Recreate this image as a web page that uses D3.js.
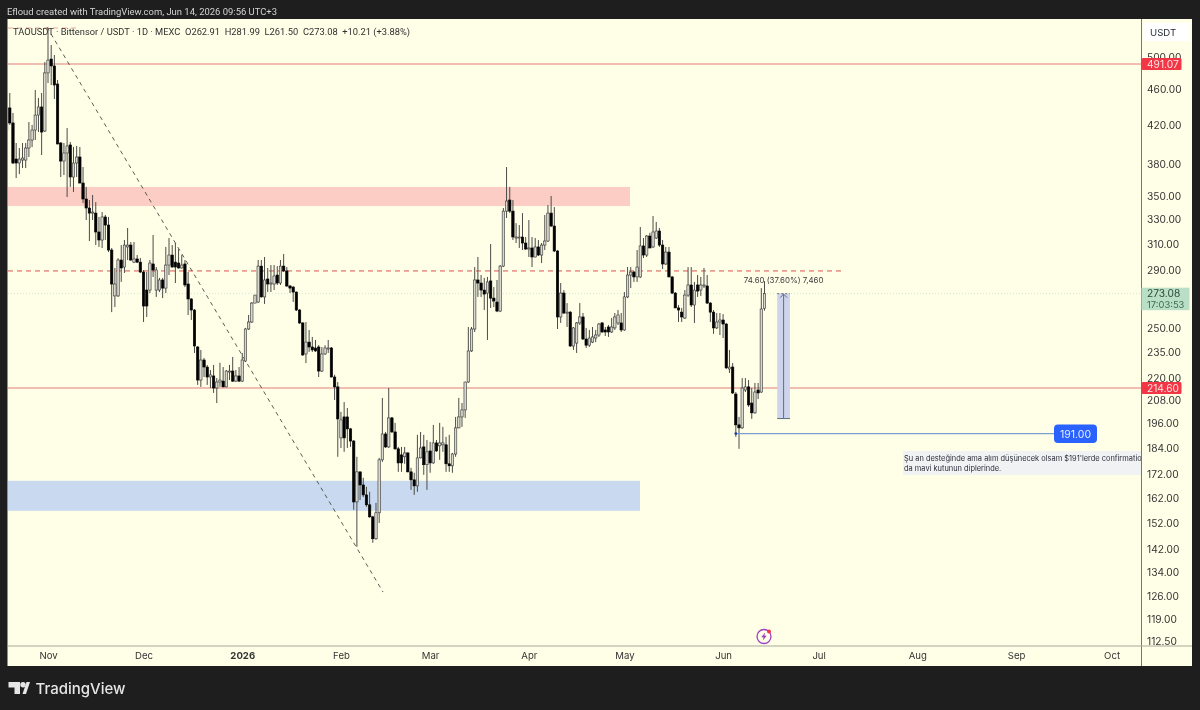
<!DOCTYPE html>
<html><head><meta charset="utf-8">
<script src="https://cdn.jsdelivr.net/npm/d3@7"></script>
<style>
html,body{margin:0;padding:0;background:#1e1e1e;overflow:hidden}
svg{display:block;filter:blur(0.35px)}
text{font-family:Inter,"Noto Sans",sans-serif}
</style></head><body>
<svg id="c" width="1200" height="710"></svg>
<script>
const startDay = "2025-10-19";
const opens = [414.8,438.9,422.4,385.2,381.3,384.2,384.2,396.2,404.4,414.8,
431,440,413.8,480,497.3,488.6,466.6,401.3,383.2,391.2,
399.3,367.9,381.3,387.2,362.3,347.8,339.9,335.5,335.5,319.7,
313.2,332.2,325.4,305.3,271.5,271.5,297.6,292.3,307.7,309.2,
296,298.4,296,288.6,275.6,275.6,294.6,275.6,275.6,282.8,
277,293.8,301.4,296,295.3,291.6,294.6,279.9,269.4,261.9,
238.3,219,230.5,226.4,220.7,221.3,214.6,217.9,218.4,215.2,
223.5,224.1,218.4,221.3,218.4,229.9,249.5,254,266.6,267.3,
293,270.8,283.5,279.9,279.9,286.4,280.6,293,289.4,278.5,
277.7,274.2,261.9,253.4,234.1,241.3,238.3,237.7,238.3,224.1,
234.1,237.1,237.7,220.7,215.2,188.9,199.3,199.3,193.3,187.4,
160.4,173.2,167.5,163.3,159.2,154.4,146,156,178.6,190.8,
184.6,198.8,191.8,183.7,180.9,180,181.8,173.2,169.7,167.1,
179.5,184.6,176.4,182.7,177.2,186.5,185.1,185.6,185.6,176.8,
175.9,181.3,193.8,199.3,202.9,217.9,235.9,249.5,282.8,280.6,
275.6,273.5,282.1,270,267.3,261.2,293,337.2,346.9,337.2,
314.8,314.8,315.6,310.8,306.1,306.9,299.9,307.7,301.4,309.2,
312.4,335.5,324.6,304.5,257.3,273.5,259.9,260.5,238.9,240.7,
253.4,257.3,243.2,239.4,241.3,243.8,245.7,253.4,248.9,250.8,
247.6,250.2,253.4,253.4,248.9,270.8,286.4,288.6,285,285,
308.5,301.4,316.4,307.7,314.8,320.5,309.2,294.6,303.7,285,
273.5,263.3,260.5,256.6,272.1,279.2,265.3,279.2,275.6,278.5,
278.5,266.6,260.5,250.2,254,255.3,252.7,225.3,226.4,211.3,
195.3,193.8,213.5,215.2,206.5,201.4,213.5,212.4,262.91];
const closes = [438.9,422.4,381.3,381.3,385.2,386.2,396.2,404.4,414.8,431,
440,412.7,480,496,488.6,465.4,400.3,383.2,391.2,398.3,
367.9,381.3,387.2,362.3,347.8,339.9,335.5,336.4,319.7,313.2,
332.2,325.4,305.3,279.9,279.9,297.6,291.6,309.2,309.2,297.6,
298.4,296,288.6,264.6,264.6,295.3,290.1,290.1,282.8,277,
293.8,301.4,292.3,292.3,291.6,293.8,279.2,269.4,261.9,238.9,
219,230.5,226.4,220.7,221.9,214.6,217.9,219,215.2,224.1,
224.1,218.4,221.3,218.4,230.5,249.5,254,266.6,272.1,293,
270.8,282.8,279.9,280.6,285.7,280.6,293,289.4,278.5,277,
274.2,261.9,253.4,233.5,241.3,238.3,236.5,235.9,224.1,234.1,
237.7,237.7,220.7,215.2,198.3,197.8,188.9,193.3,187.4,160.4,
173.2,167.5,163.3,159.2,154.4,146,156,178.6,190.8,184.6,
198.8,191.8,183.7,177.2,177.2,181.8,173.2,169.7,167.1,179.5,
184.1,176.4,182.3,177.2,186.5,182.7,186.5,186.5,176.8,175.9,
181.3,193.8,199.3,202.9,217.9,235.9,249.5,282.8,280.6,275.6,
272.8,281.4,270,268,261.2,293,337.2,346,337.2,315.6,
315.6,315.6,310.8,306.1,306.9,299.9,307.7,301.4,309.2,312.4,
335.5,324.6,304.5,257.3,273.5,259.9,260.5,238.9,250.2,253.4,
257.3,243.2,239.4,243.8,244.5,245.7,252.7,247.6,247.6,247.6,
250.8,257.3,258.6,248.9,270.8,286.4,288.6,285,292.3,308.5,
301.4,316.4,306.9,319.7,320.5,309.2,294.6,303.7,285,273.5,
263.3,261.9,257.3,272.1,279.2,265.3,275.6,274.9,279.2,279.2,
266.6,260.5,250.2,254,255.3,252.7,225.9,226.4,211.9,195.3,
193.8,214.6,215.2,205.5,201.4,212.4,211.9,262.6,273.08];
const highs = [447.9,456,433.3,401.3,396.2,401.3,401.3,423.4,420.2,459.5,
450.2,456,493.5,538,515.5,502.5,471.4,402.3,401.3,417,
402.3,397.3,398.3,397.3,377.4,358.7,346.9,351.4,345.1,332.2,
336.4,333.9,332.2,306.9,291.6,299,309.2,313.2,323,311.6,
311.6,301.4,299.1,290.1,288.6,297.6,317.2,292.3,284.3,284.3,
307.7,314.8,309.2,310.8,306.1,301.4,297.6,288.6,270,262.6,
238.9,236.5,231.7,227.6,224.7,227.6,220.1,228.9,226.4,224.7,
227.6,232.3,224.7,226.4,234.7,250.2,258.6,267.3,272.1,297.6,
297.6,299.9,291.6,293.8,293.8,293,297.6,302.2,292.3,279.2,
278.5,274.6,262.6,253.8,254,248.9,244.5,242.6,239.4,238.3,
239.4,242.6,238.3,222,217.9,201.9,207,203.9,193.8,187.9,
180,173.3,170.6,166.7,164.6,154.8,160,179.5,209.2,191.8,
214.6,199.3,196.3,184.6,184.6,184.6,182,175,172.8,190.4,
191.8,190.4,187.9,187,195.3,187.9,196.3,194.3,189.4,190.4,
181.8,199.3,209.2,206.5,218,250.8,250.8,292.3,299.9,286.4,
284.3,285,310,277.7,282.8,293.8,339.9,377.4,358.7,346.9,
327,325.4,335.5,315.6,329.6,315.6,314.8,313.2,310.8,333.9,
342.5,350.5,340.7,305.3,280.6,275.6,266.6,261.2,250.8,254,
266.6,259.9,250.2,248.9,250.8,248.9,253.4,254,250.8,252.1,
256.6,259.9,261.9,259.9,274.2,292.3,292.3,289.4,305.3,323.8,
314.8,317.2,319,333,328,323,313.2,307.7,307.7,285.7,
274.2,265.3,263.3,275.6,292.3,292.3,281.4,286.4,285,291.6,
286.4,267.3,261.9,259.9,259.9,259.2,253.4,236.5,228.7,212.4,
199.3,220.1,220.1,219,214.6,217.4,217.4,277,281.99];
const lows = [399.3,420.2,380.3,367,370.7,376.4,376.4,387.2,397.2,404.4,
412.7,389.2,412.7,467.8,465.4,449,400,367.9,369.8,349.6,
358.7,354.1,367.9,362,344.3,329.6,312.4,329.6,309.2,307.7,
306.9,313.2,303.7,260.5,263.9,270.8,281.4,287.9,297.6,297,
295.3,295.3,287.9,254,257.3,273.5,285,270.8,274.2,270,
273.5,286.4,292,280.6,291.2,291.2,277.7,258.6,255.3,234.7,
216.3,215.2,220.7,216.3,214.6,211.9,206.5,215.2,215,215,
219,217.9,217.9,217.9,217.9,229.3,248.9,253.4,266.5,266.6,
270.5,266,274.2,274.2,275.6,279.2,279.2,288.6,277.7,273.5,
267.3,261.2,252.7,232.9,228.7,235.3,235.3,235.3,220.7,223.5,
233.5,234.7,220.5,208.1,180,184.1,182.3,184.1,184.6,157.2,
143,161.2,162.4,158.4,154,144.5,145.6,152,177.7,184.1,
184.1,191.3,183.2,173.2,173.2,176.8,173,165.4,163.3,164.6,
179.3,171.9,165.4,172.8,176.8,182.3,178.6,182.3,173.2,173.2,
172.8,180,193.6,194.3,198.8,217.4,235.3,247.6,270.8,270.8,
261.9,242.6,263.3,263.9,260.5,260.5,292.3,331.3,335.5,313.2,
310.8,306.9,305.3,305.3,299.9,292.3,299.6,300.7,295.3,305.3,
311.6,323.8,303.7,249.5,253.4,259.2,250.8,238.3,236.5,234.7,
252.1,242.6,237.7,238.3,240.7,241.3,244.5,247,245.1,244.5,
247,248.9,252.1,247.6,248.3,270,277,281.4,281.4,284.3,
299.1,299.9,306.7,306.9,314,307.7,290.8,293.8,284.8,272.8,
263.2,254,254,256,270.8,263.9,253.4,270.8,271.5,277,
266,254,246.4,249.5,245.7,243.8,225.3,223,211.3,189.4,
183.7,193.3,212.4,204.5,198.3,200.9,208.6,211.9,261.5];

const priceTicks = [500,460,420,380,350,330,310,290,250,235,220,208,196,184,172,162,152,142,134,126,119,112.5];
const monthTicks = [["2025-11-01","Nov"],["2025-12-01","Dec"],["2026-01-01","2026"],["2026-02-01","Feb"],["2026-03-01","Mar"],["2026-04-01","Apr"],["2026-05-01","May"],["2026-06-01","Jun"],["2026-07-01","Jul"],["2026-08-01","Aug"],["2026-09-01","Sep"],["2026-10-01","Oct"]];
const solidLevels = [491.07,214.60];
const dashedLevel = 289.4;
const lastPrice = 273.08;
const supportLevel = 191.00;
const supplyZone = [358.7,341.6];
const demandZone = [169.3,156.8];
const trendLine = [["2025-10-31T16:00Z",539.7],["2026-02-14T05:00Z",127.4]];
const measureBox = ["2026-06-18","2026-06-22",273.08,198.48];

const W=1200,H=710, L=8,R=1141,T=19,B=646, RE=1192, BE=666;
const x = d3.scaleUtc().domain([new Date("2025-10-19T10:30Z"),new Date("2026-10-10T05:40Z")]).range([L,R]);
const y = d3.scaleLog().domain([111.0,550.9]).range([B,T]);
const D = s => new Date(s.length===10 ? s+"T00:00Z" : s);
const svg = d3.select("#c");

svg.append("rect").attr("width",W).attr("height",H).attr("fill","#1e1e1e");
svg.append("rect").attr("x",7.5).attr("y",T).attr("width",RE-7.5).attr("height",BE-T).attr("fill","#ffffe8");
svg.append("defs").append("clipPath").attr("id","plot").append("rect").attr("x",L).attr("y",T).attr("width",R-L).attr("height",B-T);

const sans="Inter,'Noto Sans',sans-serif";
svg.append("text").attr("x",7).attr("y",15).attr("fill","#d4d4d4").attr("font-size",9.6).attr("font-family","Roboto").style("font-family","Roboto").attr("textLength",270).attr("lengthAdjust","spacingAndGlyphs").text("Efloud created with TradingView.com, Jun 14, 2026 09:56 UTC+3");

const plot = svg.append("g").attr("clip-path","url(#plot)");
plot.append("rect").attr("x",L).attr("width",630-L).attr("y",y(supplyZone[0])).attr("height",y(supplyZone[1])-y(supplyZone[0])).attr("fill","#fccdc4");
plot.append("rect").attr("x",L).attr("width",640-L).attr("y",y(demandZone[0])).attr("height",y(demandZone[1])-y(demandZone[0])).attr("fill","#c9d9ef");

plot.append("line").attr("x1",L).attr("x2",R).attr("y1",y(lastPrice)).attr("y2",y(lastPrice)).attr("stroke","#cfe8d2").attr("stroke-dasharray","1 2").attr("stroke-width",1);
plot.selectAll("line.lvl").data(solidLevels).join("line").attr("class","lvl").attr("x1",L).attr("x2",R).attr("y1",d=>y(d)).attr("y2",d=>y(d)).attr("stroke","#e17d7b").attr("stroke-width",1.2);
plot.append("line").attr("x1",L).attr("x2",844).attr("y1",y(dashedLevel)).attr("y2",y(dashedLevel)).attr("stroke","#d9534f").attr("stroke-width",1).attr("stroke-dasharray","5 4");
plot.append("line").attr("x1",L).attr("x2",76).attr("y1",28).attr("y2",28).attr("stroke","#eda5a0").attr("stroke-width",1).attr("stroke-dasharray","5 4");

plot.append("line").attr("x1",x(D(trendLine[0][0]))).attr("y1",y(trendLine[0][1])).attr("x2",x(D(trendLine[1][0]))).attr("y2",y(trendLine[1][1])).attr("stroke","#4a4a44").attr("stroke-width",0.9).attr("stroke-dasharray","4 4");

const candles = opens.map((o,i)=>({o,c:closes[i],h:highs[i],l:lows[i],d:d3.utcDay.offset(D(startDay),i)}));
const cg = plot.append("g");
cg.selectAll("line").data(candles).join("line").attr("x1",d=>x(d.d)).attr("x2",d=>x(d.d)).attr("y1",d=>y(d.h)).attr("y2",d=>y(d.l)).attr("stroke","#4b4b48").attr("stroke-width",1);
cg.selectAll("rect").data(candles).join("rect").attr("x",d=>x(d.d)-1.2).attr("width",2.4)
 .attr("y",d=>y(Math.max(d.o,d.c))).attr("height",d=>Math.max(1,Math.abs(y(d.o)-y(d.c))))
 .attr("fill",d=>d.c>=d.o?"#d8d8d0":"#000").attr("stroke",d=>d.c>=d.o?"#333":"#000").attr("stroke-width",0.6);

// measure tool
const mx1=x(D(measureBox[0])), mx2=x(D(measureBox[1])), my1=y(measureBox[2]), my2=y(measureBox[3]), mc=(mx1+mx2)/2;
plot.append("rect").attr("x",mx1).attr("width",mx2-mx1).attr("y",my1).attr("height",my2-my1).attr("fill","#cdd4ec");
plot.append("line").attr("x1",mc).attr("x2",mc).attr("y1",my1).attr("y2",my2).attr("stroke","#5f6f80").attr("stroke-width",1);
plot.append("line").attr("x1",mx1).attr("x2",mx2).attr("y1",my2).attr("y2",my2).attr("stroke","#5f6f80").attr("stroke-width",1);
plot.append("line").attr("x1",mx1).attr("x2",mx2).attr("y1",my1).attr("y2",my1).attr("stroke","#5f6f80").attr("stroke-width",1).attr("stroke-dasharray","2 2");
plot.append("path").attr("d",`M${mc-3.5} ${my1+4}L${mc} ${my1+.5}L${mc+3.5} ${my1+4}`).attr("fill","none").attr("stroke","#5f6f80");
plot.append("text").attr("x",mc).attr("y",my1-11).attr("text-anchor","middle").attr("font-size",7.9).attr("fill","#3c3c3c").text("74.60 (37.60%) 7,460");

// support line and label
const sy=y(supportLevel), sx=x(D("2026-06-05"));
plot.append("line").attr("x1",sx).attr("x2",1055).attr("y1",sy).attr("y2",sy).attr("stroke","#7c9fd0").attr("stroke-width",1.4);
plot.append("circle").attr("cx",sx).attr("cy",sy).attr("r",1.4).attr("fill","#1f3fa0");
plot.append("rect").attr("x",1054).attr("y",sy-9).attr("width",43).attr("height",18.5).attr("rx",4).attr("fill","#2962ff");
plot.append("text").attr("x",1075.5).attr("y",sy+4).attr("text-anchor","middle").attr("font-size",10.5).attr("fill","#e8eeff").text("191.00");
plot.append("rect").attr("x",903).attr("y",451).attr("width",R-903).attr("height",24).attr("fill","#f1f2f4");
plot.append("text").attr("x",904).attr("y",461).attr("font-size",7.45).attr("fill","#2a2e39").text("Şu an desteğinde ama alım düşünecek olsam $191'lerde confirmation");
plot.append("text").attr("x",904).attr("y",471).attr("font-size",7.45).attr("fill","#2a2e39").text("da mavi kutunun diplerinde.");

plot.append("text").attr("x",13).attr("y",34.5).attr("font-size",9.4).attr("fill","#2f2f2f").attr("xml:space","preserve").style("font-family","Roboto").attr("textLength",397).attr("lengthAdjust","spacingAndGlyphs").text("TAOUSDT · Bittensor / USDT · 1D · MEXC  O262.91  H281.99  L261.50  C273.08  +10.21 (+3.88%)");

// lightning icon
const ic=svg.append("g").attr("transform","translate(764,636.5)");
ic.append("circle").attr("r",7).attr("fill","none").attr("stroke","#9c3fc2").attr("stroke-width",1.3);
ic.append("path").attr("d","M1.2 -4L-2.8 .8H-.4L-1.2 4L2.8 -.8H.4Z").attr("fill","#9c3fc2");
ic.append("circle").attr("cx",5).attr("cy",-5).attr("r",2).attr("fill","#f23645");

// axes frame
svg.append("line").attr("x1",R+.5).attr("x2",R+.5).attr("y1",T).attr("y2",BE).attr("stroke","#77786c").attr("stroke-width",1);
svg.append("line").attr("x1",7.5).attr("x2",RE).attr("y1",B).attr("y2",B).attr("stroke","#a8a998").attr("stroke-width",1.2);

const ya = svg.append("g").attr("transform",`translate(${R+6},0)`).call(d3.axisRight(y).tickValues(priceTicks).tickSize(0).tickPadding(0).tickFormat(d3.format(".2f")));
ya.select(".domain").remove();
ya.selectAll("text").attr("font-size",10.2).attr("fill","#333").attr("font-family",sans);

const xa = svg.append("g").attr("transform",`translate(0,${B})`).call(d3.axisBottom(x).tickValues(monthTicks.map(d=>D(d[0]))).tickSize(0).tickPadding(6).tickFormat((d,i)=>monthTicks[i][1]));
xa.select(".domain").remove();
xa.selectAll("text").attr("font-size",9.6).attr("fill","#333").attr("font-family",sans).attr("font-weight",(d,i)=>monthTicks[i][1]==="2026"?700:400);

// price tags
svg.selectAll("rect.tag").data(solidLevels).join("rect").attr("class","tag").attr("x",R+.5).attr("y",d=>y(d)-6).attr("width",40).attr("height",12).attr("rx",1.5).attr("fill","#f23645");
svg.selectAll("text.tag").data(solidLevels).join("text").attr("class","tag").attr("x",R+6).attr("y",d=>y(d)+3.8).attr("font-size",10.2).attr("fill","#fde4e6").text(d=>d3.format(".2f")(d));
svg.append("rect").attr("x",R+.5).attr("y",y(lastPrice)-6).attr("width",48).attr("height",22.5).attr("fill","#b9dfc6");
svg.append("text").attr("x",R+6).attr("y",y(lastPrice)+3.4).attr("font-size",10.2).attr("fill","#2c4a38").text(d3.format(".2f")(lastPrice));
svg.append("text").attr("x",R+6).attr("y",y(lastPrice)+14).attr("font-size",9.4).attr("fill","#3f6a52").text("17:03:53");
svg.append("rect").attr("x",1143).attr("y",23).attr("width",47).attr("height",18).attr("fill","#ffffff");
svg.append("text").attr("x",1150).attr("y",36).attr("font-size",9.6).attr("fill","#2a2e39").text("USDT");

// logo
const lg=svg.append("g").attr("fill","#e6e6e6");
lg.append("path").attr("d","M8.5 682H20V694H14.5V687.5H8.5Z");
lg.append("circle").attr("cx",23).attr("cy",684.8).attr("r",2.7);
lg.append("path").attr("d","M22.5 694L26.5 682H30L26 694Z");
svg.append("text").attr("x",35.5).attr("y",693.5).attr("font-size",15).attr("font-weight",500).attr("fill","#e6e6e6").text("TradingView");
</script>
</body></html>
